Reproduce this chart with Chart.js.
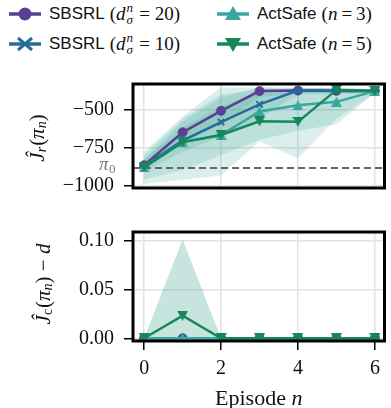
<!DOCTYPE html>
<html>
<head>
<meta charset="utf-8">
<script src="https://cdn.jsdelivr.net/npm/chart.js@4.4.0/dist/chart.umd.min.js"></script>
<style>
  body { margin: 0; width: 391px; height: 408px; background: #fff; position: relative; overflow: hidden; }
  canvas { position: absolute; left: 0; }
  .leg { position: absolute; height: 26px; display: flex; align-items: center; white-space: nowrap;
         font: 17px "Liberation Sans", Arial, sans-serif; color: #111; }
  .leg svg { margin-right: 8px; }
  .m { font-family: "Liberation Serif", serif; font-size: 19px; margin-left: 5px; }
  .eq { margin: 0 4px; }
  .ss { position: relative; display: inline-block; width: 9px; height: 10px; font-style: italic; font-size: 13px; }
  .ss .up { position: absolute; left: 1px; top: -10px; }
  .ss .dn { position: absolute; left: 1px; top: 2px; }
</style>
</head>
<body>
<div class="leg" id="leg0" style="left:9px;top:1px"></div>
<div class="leg" id="leg1" style="left:9px;top:31px"></div>
<div class="leg" id="leg2" style="left:217px;top:1px"></div>
<div class="leg" id="leg3" style="left:217px;top:31px"></div>
<canvas id="top" width="391" height="150" style="top:60px"></canvas>
<canvas id="bottom" width="391" height="198" style="top:210px"></canvas>
<script>
// episodes on the x axis
const episodes = [0, 1, 2, 3, 4, 5, 6];

// reward per episode (top panel)
const rewardSbsrl20 = [-868, -650, -508, -378, -374, -376, -378];
const rewardSbsrl10 = [-872, -705, -583, -465, -374, -378, -378];
const rewardAct3 = [-880, -715, -668, -512, -472, -449, -378];
const rewardAct5 = [-880, -715, -668, -577, -581, -370, -378];

// reward spread (lower / upper)
const lowSbsrl20 = [-900, -720, -600, -420, -390, -390, -390];
const highSbsrl20 = [-830, -580, -420, -350, -355, -360, -365];
const lowSbsrl10 = [-910, -780, -680, -560, -400, -395, -390];
const highSbsrl10 = [-830, -620, -480, -380, -355, -360, -365];
const lowAct3 = [-960, -900, -800, -700, -640, -597, -390];
const highAct3 = [-800, -560, -400, -370, -365, -360, -365];
const lowAct5 = [-990, -963, -933, -710, -821, -560, -390];
const highAct5 = [-780, -545, -352, -355, -360, -355, -365];

// cost minus budget per episode (bottom panel)
const costSbsrl20 = [0, 0, 0, 0, 0, 0, 0];
const costSbsrl10 = [0, 0, 0, 0, 0, 0, 0];
const costAct3 = [0, 0, 0, 0, 0, 0, 0];
const costAct5 = [0, 0.0232, 0, 0, 0, 0, 0];
const costLowAct5 = [0, 0, 0, 0, 0, 0, 0];
const costHighAct5 = [0, 0.1017, 0, 0, 0, 0, 0];

// initial policy reward
const piZero = -886;

// tick labels
const rewardTicks = [-1000, -750, -500];
const costTicks = [0, 0.05, 0.10];
const episodeTicks = [0, 2, 4, 6];

const xMin = -0.29, xMax = 6.25;

const PURPLE = "#5b3f94";
const BLUE = "#266c9b";
const TEAL = "#3aa79e";
const GREEN = "#16875a";
const BAND = "rgba(52, 160, 145, 0.18)";
const SERIF = '"Liberation Serif", "DejaVu Serif", serif';

const pts = ys => episodes.map((x, i) => ({ x, y: ys[i] }));

// matplotlib-like triangle markers (apex and flat side at the same distance)
function triangle(color, down) {
  const c = document.createElement("canvas");
  c.width = 11; c.height = 10;
  const g = c.getContext("2d");
  g.fillStyle = color;
  g.beginPath();
  if (down) { g.moveTo(0, 0); g.lineTo(11, 0); g.lineTo(5.5, 10); }
  else { g.moveTo(5.5, 0); g.lineTo(11, 10); g.lineTo(0, 10); }
  g.closePath();
  g.fill();
  return c;
}

function lineDs(ys, color, style, order, radius) {
  return {
    data: pts(ys), borderColor: color, backgroundColor: color, borderWidth: 2.5,
    pointStyle: style, pointRadius: radius, pointBorderColor: color,
    pointBorderWidth: style === "crossRot" ? 2 : 1, fill: false, order, clip: 0
  };
}
function bandDs(lo, hi, color) {
  return [
    { data: pts(hi), borderWidth: 0, pointRadius: 0, fill: "+1", backgroundColor: color, order: 20 },
    { data: pts(lo), borderWidth: 0, pointRadius: 0, fill: false, order: 20 }
  ];
}

// legend
const dSigma = '<i>d</i><span class="ss"><span class="up">n</span><span class="dn">σ</span></span>';
const legendItems = [
  { id: "leg0", color: PURPLE, mark: "circle", name: "SBSRL", math: `(${dSigma} = 20)` },
  { id: "leg1", color: BLUE, mark: "cross", name: "SBSRL", math: `(${dSigma} = 10)` },
  { id: "leg2", color: TEAL, mark: "up", name: "ActSafe", math: '(<i>n</i><span class="eq">=</span>3)' },
  { id: "leg3", color: GREEN, mark: "down", name: "ActSafe", math: '(<i>n</i><span class="eq">=</span>5)' }
];
legendItems.forEach(it => {
  let sym = "";
  if (it.mark === "circle") sym = `<circle cx="16" cy="13" r="6.5" fill="${it.color}"/>`;
  if (it.mark === "cross") sym = `<path d="M9 7 L23 19 M9 19 L23 7" stroke="${it.color}" stroke-width="3"/>`;
  if (it.mark === "up") sym = `<path d="M16 5 L24 19 L8 19 Z" fill="${it.color}"/>`;
  if (it.mark === "down") sym = `<path d="M16 21 L24 7 L8 7 Z" fill="${it.color}"/>`;
  document.getElementById(it.id).innerHTML =
    `<svg width="32" height="26"><line x1="0" y1="13" x2="32" y2="13" stroke="${it.color}" stroke-width="3.5"/>${sym}</svg>` +
    `${it.name}<span class="m">${it.math}</span>`;
});

// axis title made of math pieces, rotated
function mathTitle(ctx, parts, cx, cy) {
  ctx.save();
  ctx.translate(cx, cy);
  ctx.rotate(-Math.PI / 2);
  let w = 0;
  parts.forEach(p => { ctx.font = p.f; w += ctx.measureText(p.t).width + (p.gap || 0); });
  let x = -w / 2;
  ctx.fillStyle = "#111";
  ctx.textBaseline = "middle";
  parts.forEach(p => {
    ctx.font = p.f;
    ctx.fillText(p.t, x, p.dy || 0);
    x += ctx.measureText(p.t).width + (p.gap || 0);
  });
  ctx.restore();
}

const boxPlugin = {
  id: "box",
  afterDraw(chart) {
    const { ctx, chartArea: a } = chart;
    ctx.save();
    ctx.strokeStyle = "#000";
    ctx.lineWidth = 3;
    ctx.strokeRect(a.left, a.top, a.right - a.left, a.bottom - a.top);
    ctx.restore();
  }
};

function axes(yMin, yMax, yTicks, fmt, xHeight) {
  const showX = xHeight > 0;
  return {
    x: {
      type: "linear", min: xMin, max: xMax,
      afterBuildTicks: s => { s.ticks = episodeTicks.map(v => ({ value: v })); },
      afterFit: s => { s.height = xHeight; },
      grid: { color: "#e2e2e2", lineWidth: 1.5, tickColor: "#000", tickWidth: 1.5, tickLength: 9, drawTicks: showX },
      border: { display: false },
      ticks: { display: showX, padding: 7, color: "#111", font: { family: SERIF, size: 20 } }
    },
    y: {
      min: yMin, max: yMax,
      afterBuildTicks: s => { s.ticks = yTicks.map(v => ({ value: v })); },
      afterFit: s => { s.width = 133; },
      grid: { color: "#e2e2e2", lineWidth: 1.5, tickColor: "#000", tickWidth: 1.5, tickLength: 9 },
      border: { display: false },
      ticks: { padding: 10, color: "#111", font: { family: SERIF, size: 20 }, callback: fmt }
    }
  };
}

const baseOpts = {
  responsive: false, animation: false, devicePixelRatio: 1,
  plugins: { legend: { display: false }, tooltip: { enabled: false } },
  elements: { line: { tension: 0 } }
};

const triTeal = triangle(TEAL, false);
const triGreen = triangle(GREEN, true);

// top panel: reward
new Chart(document.getElementById("top"), {
  type: "line",
  data: {
    datasets: [
      ...bandDs(lowAct5, highAct5, BAND),
      ...bandDs(lowAct3, highAct3, BAND),
      ...bandDs(lowSbsrl10, highSbsrl10, BAND),
      ...bandDs(lowSbsrl20, highSbsrl20, BAND),
      { data: [{ x: xMin, y: piZero }, { x: xMax, y: piZero }], borderColor: "#666", borderWidth: 2,
        borderDash: [7, 4], pointRadius: 0, fill: false, order: 10 },
      lineDs(rewardSbsrl20, PURPLE, "circle", 4, 4.5),
      lineDs(rewardSbsrl10, BLUE, "crossRot", 3, 4.5),
      lineDs(rewardAct3, TEAL, triTeal, 2, 5),
      lineDs(rewardAct5, GREEN, triGreen, 1, 5)
    ]
  },
  options: {
    ...baseOpts,
    layout: { padding: { top: 24, bottom: 14, right: 5, left: 0 } },
    scales: axes(-1018, -331, rewardTicks, v => (v < 0 ? "\u2212" : "") + Math.abs(v), 0)
  },
  plugins: [boxPlugin, {
    id: "titles",
    afterDraw(chart) {
      const { ctx } = chart;
      const y = chart.scales.y.getPixelForValue(piZero);
      ctx.save();
      ctx.fillStyle = "#777";
      ctx.textBaseline = "middle";
      ctx.font = "italic 19px " + SERIF;
      ctx.fillText("π", 99, y - 3);
      ctx.font = "13px " + SERIF;
      ctx.fillText("0", 109, y + 2);
      ctx.restore();
      mathTitle(ctx, [
        { t: "Ĵ", f: "italic 21px " + SERIF },
        { t: "r", f: "italic 14px " + SERIF, dy: 4, gap: 1 },
        { t: "(", f: "21px " + SERIF },
        { t: "π", f: "italic 21px " + SERIF },
        { t: "n", f: "italic 14px " + SERIF, dy: 4 },
        { t: ")", f: "21px " + SERIF }
      ], 38, 78);
    }
  }]
});

// bottom panel: cost
new Chart(document.getElementById("bottom"), {
  type: "line",
  data: {
    datasets: [
      ...bandDs(costLowAct5, costHighAct5, "rgba(40, 150, 128, 0.26)"),
      lineDs(costSbsrl20, PURPLE, "circle", 4, 4.5),
      lineDs(costSbsrl10, BLUE, "crossRot", 3, 4.5),
      lineDs(costAct3, TEAL, triTeal, 2, 5),
      lineDs(costAct5, GREEN, triGreen, 1, 5)
    ]
  },
  options: {
    ...baseOpts,
    layout: { padding: { top: 17, bottom: 0, right: 5, left: 0 } },
    scales: axes(-0.0028, 0.1093, costTicks, v => v.toFixed(2), 67)
  },
  plugins: [boxPlugin, {
    id: "titles",
    afterDraw(chart) {
      const { ctx, chartArea: a } = chart;
      mathTitle(ctx, [
        { t: "Ĵ", f: "italic 21px " + SERIF },
        { t: "c", f: "14px " + SERIF, dy: 4, gap: 1 },
        { t: "(", f: "21px " + SERIF },
        { t: "π", f: "italic 21px " + SERIF },
        { t: "n", f: "italic 14px " + SERIF, dy: 4 },
        { t: ")", f: "21px " + SERIF },
        { t: " − ", f: "21px " + SERIF },
        { t: "d", f: "italic 21px " + SERIF }
      ], 44, 74);
      ctx.save();
      ctx.fillStyle = "#111";
      ctx.textBaseline = "middle";
      ctx.textAlign = "left";
      const mid = (a.left + a.right) / 2;
      ctx.font = "22px " + SERIF;
      const w1 = ctx.measureText("Episode ").width;
      ctx.font = "italic 22px " + SERIF;
      const w2 = ctx.measureText("n").width;
      let x = mid - (w1 + w2) / 2;
      ctx.font = "22px " + SERIF;
      ctx.fillText("Episode ", x, 189);
      ctx.font = "italic 22px " + SERIF;
      ctx.fillText("n", x + w1, 189);
      ctx.restore();
    }
  }]
});
</script>
</body>
</html>
